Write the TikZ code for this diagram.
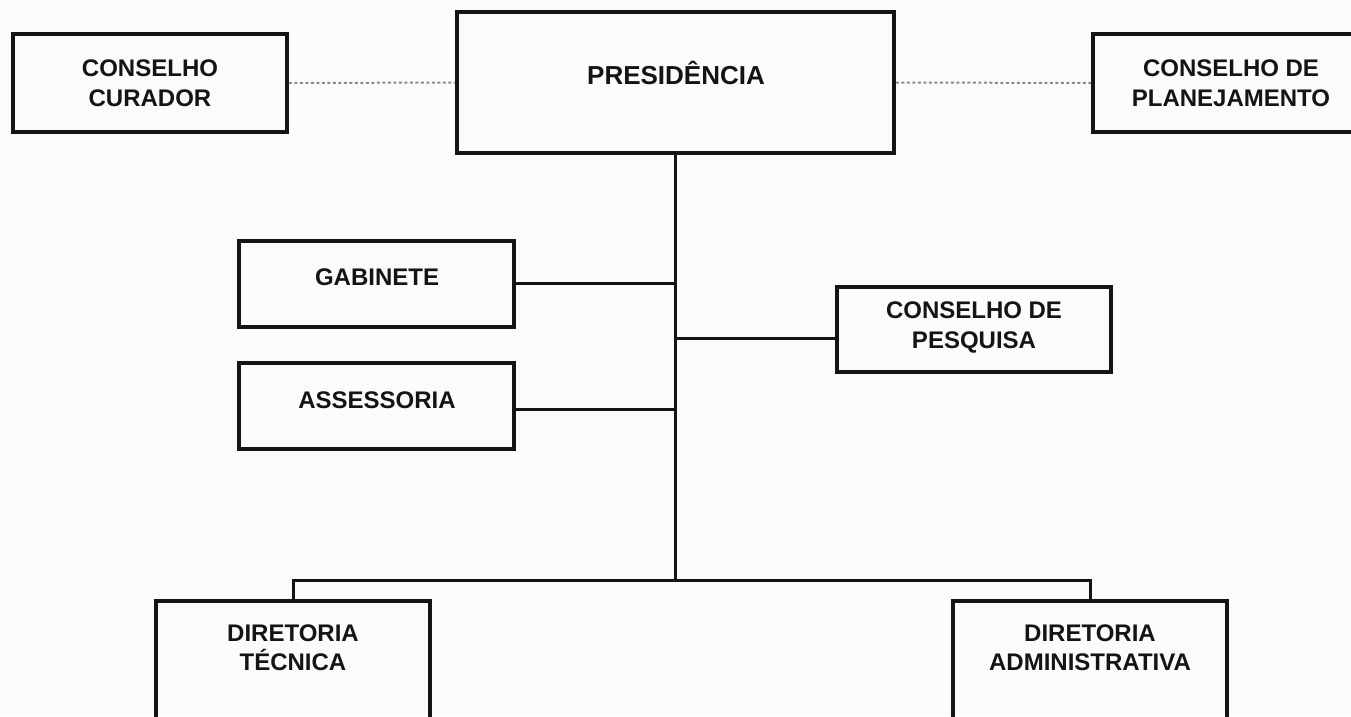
\documentclass[tikz,border=0pt]{standalone}
\usepackage{fontspec}
\setmainfont{Liberation Sans}
\definecolor{bgc}{RGB}{252,250,251}
\definecolor{ink}{RGB}{20,20,20}
\definecolor{dotc}{RGB}{140,140,140}
\begin{document}
\begin{tikzpicture}[x=1pt,y=-1pt,
  box/.style={draw=ink,line width=3.6pt,rectangle,inner sep=0pt,minimum width=274pt},
  lbl/.style={text=ink,align=center,inner sep=0pt,font=\fontsize{24}{29.5}\selectfont\bfseries},
  conn/.style={draw=ink,line width=3pt},
  dotconn/.style={draw=dotc,line width=2pt,dash pattern=on 3pt off 2.5pt}]
\fill[bgc] (0,0) rectangle (1351,716);
\clip (0,0) rectangle (1351,716);
% boxes
\node[box,minimum height=98pt] (cur) at (150,83) {};
\node[box,minimum width=437pt,minimum height=141pt] (pres) at (675.5,82.5) {};
\node[box,minimum height=98pt] (plan) at (1230,83) {};
\node[box,minimum width=275pt,minimum height=86pt] (gab) at (376.5,284) {};
\node[box,minimum width=275pt,minimum height=86pt] (ass) at (376.5,406) {};
\node[box,minimum height=85pt] (pes) at (974,329.5) {};
\node[box,minimum height=159pt] (tec) at (293,680.5) {};
\node[box,minimum height=159pt] (adm) at (1090,680.5) {};
% labels
\node[lbl] (curT) at (150,83) {CONSELHO\\CURADOR};
\node[lbl,font=\fontsize{26}{30}\selectfont\bfseries] (presT) at (676,73) {PRESIDÊNCIA};
\node[lbl] (planT) at (1231,83) {CONSELHO DE\\PLANEJAMENTO};
\node[lbl] (gabT) at (377,277) {GABINETE};
\node[lbl] (assT) at (377,400) {ASSESSORIA};
\node[lbl] (pesT) at (974,327.5) {CONSELHO DE\\PESQUISA};
\node[lbl] (tecT) at (293,647.5) {DIRETORIA\\TÉCNICA};
\node[lbl] (admT) at (1090,647.5) {DIRETORIA\\ADMINISTRATIVA};
% connectors
\coordinate (bar) at (676,580);
\draw[dotconn] (cur.east) -- (pres.west);
\draw[dotconn] (pres.east) -- (plan.west);
\draw[conn] (pres.south) -- (pres.south |- bar);
\draw[conn] ([yshift=1pt]gab.east) -- ([yshift=1pt]gab.east -| pres.south);
\draw[conn] ([yshift=-3pt]ass.east) -- ([yshift=-3pt]ass.east -| pres.south);
\draw[conn] ([yshift=-9pt]pes.west) -- ([yshift=-9pt]pes.west -| pres.south);
\draw[conn] (tec.north) -- (tec.north |- bar) -- (adm.north |- bar) -- (adm.north);
\end{tikzpicture}
\end{document}
